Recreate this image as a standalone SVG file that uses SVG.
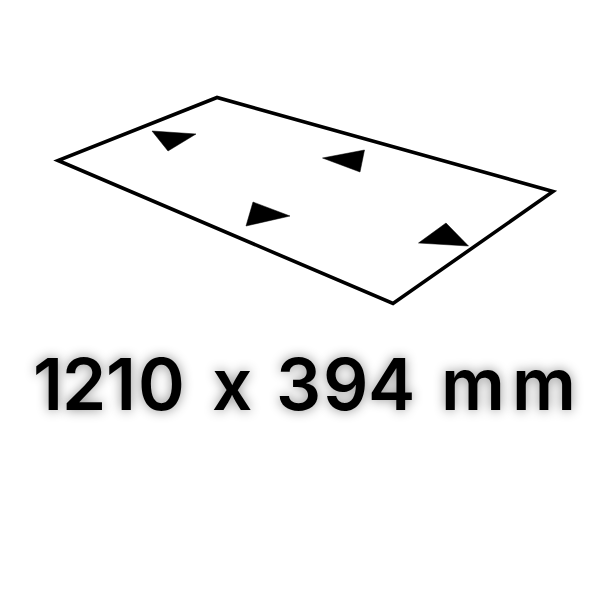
<svg xmlns="http://www.w3.org/2000/svg" width="600" height="600" viewBox="0 0 600 600">
<style>
.arrow{fill:#000;stroke:#000;stroke-width:.5;stroke-linejoin:round}
.label{font-family:"Inter","Noto Sans",sans-serif;font-weight:600;font-size:71px;fill:#000;font-feature-settings:"calt" 0;font-variant-ligatures:none;text-shadow:0 0 12px rgba(0,0,0,.45)}
</style>
<rect width="600" height="600" fill="#fff"/>
<g id="sheet"><polygon points="217,97.500 58,160.500 393,303.500 553,191.500" fill="none" stroke="#000" stroke-width="3.600" stroke-linejoin="miter"/></g>
<g id="arrows">
<polygon class="arrow" points="152,131 196,134 168,151"/>
<polygon class="arrow" points="253,202 290,216 246,226"/>
<polygon class="arrow" points="322.500,158 364.500,150 360,172"/>
<polygon class="arrow" points="446,223 468.500,246 418.500,243"/>
</g>
<g id="dimension"><text class="label" y="410" x="33 62 106 138 0 212 0 276 323 368 0 441 512">1210 x 394 mm</text></g>
</svg>
